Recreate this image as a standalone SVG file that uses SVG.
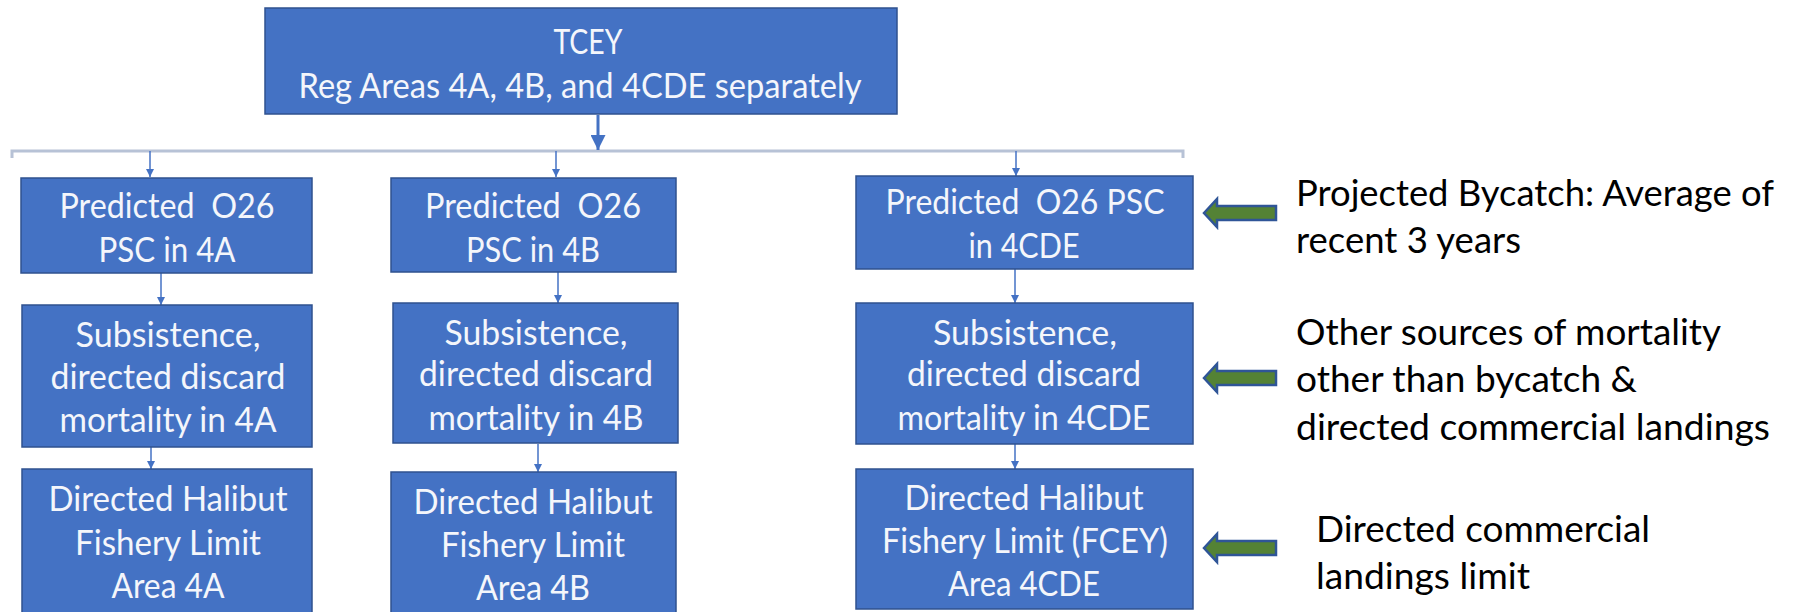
<svg xmlns="http://www.w3.org/2000/svg" width="1794" height="612" viewBox="0 0 1794 612">
<style>
.box{fill:#4472C4;stroke:#2F528F;stroke-width:1.5}
.bt{font-family:Lato,"Open Sans","Liberation Sans",sans-serif;font-size:35px;fill:#F4F6FB;text-anchor:middle}
.rt{font-family:Lato,"Open Sans","Liberation Sans",sans-serif;font-size:37px;fill:#000}
.ln{stroke:#4472C4;stroke-width:1.5;fill:none}
.br{stroke:#B7C2D6;stroke-width:3;fill:none}
.ga{fill:#548235;stroke:#2F5597;stroke-width:2.5;stroke-linejoin:miter}
</style>
<defs>
<marker id="ah" viewBox="0 0 10 10" refX="10" refY="5" markerWidth="8" markerHeight="8" markerUnits="userSpaceOnUse" orient="auto">
<path d="M0,0 L10,5 L0,10 z" fill="#4472C4"/>
</marker>
<marker id="ahb" viewBox="0 0 10 10" refX="10" refY="5" markerWidth="5" markerHeight="5" orient="auto">
<path d="M0,0 L10,5 L0,10 z" fill="#4472C4"/>
</marker>
</defs>

<g id="connectors">
<path class="br" d="M12,158 L12,151 L1183,151 L1183,158"/>
<line x1="598" y1="115" x2="598" y2="150" stroke="#4472C4" stroke-width="3" marker-end="url(#ahb)"/>
<line class="ln" x1="150" y1="151" x2="150" y2="177" marker-end="url(#ah)"/>
<line class="ln" x1="556" y1="151" x2="556" y2="177" marker-end="url(#ah)"/>
<line class="ln" x1="1016" y1="151" x2="1016" y2="176" marker-end="url(#ah)"/>
<line class="ln" x1="161" y1="273" x2="161" y2="305" marker-end="url(#ah)"/>
<line class="ln" x1="558" y1="272" x2="558" y2="303" marker-end="url(#ah)"/>
<line class="ln" x1="1015" y1="269" x2="1015" y2="303" marker-end="url(#ah)"/>
<line class="ln" x1="151" y1="447" x2="151" y2="469" marker-end="url(#ah)"/>
<line class="ln" x1="538" y1="444" x2="538" y2="472" marker-end="url(#ah)"/>
<line class="ln" x1="1015" y1="444" x2="1015" y2="469" marker-end="url(#ah)"/>
<path class="ga" d="M1204,213 L1217,199 L1217,206 L1276,206 L1276,220 L1217,220 L1217,227 z"/>
<path class="ga" d="M1204,378 L1217,364 L1217,371 L1276,371 L1276,385 L1217,385 L1217,392 z"/>
<path class="ga" d="M1204,548 L1217,534 L1217,541 L1276,541 L1276,555 L1217,555 L1217,562 z"/>
</g>

<g id="tcey">
<rect class="box" x="265" y="8" width="632" height="106"/>
<text class="bt" x="588" y="54" textLength="69" lengthAdjust="spacingAndGlyphs">TCEY</text>
<text class="bt" x="580" y="98" textLength="563" lengthAdjust="spacingAndGlyphs">Reg Areas 4A, 4B, and 4CDE separately</text>
</g>

<g id="psc4a">
<rect class="box" x="21" y="178" width="291" height="95"/>
<text class="bt" x="167" y="218" textLength="215" lengthAdjust="spacingAndGlyphs" xml:space="preserve">Predicted  O26</text>
<text class="bt" x="167" y="262" textLength="137" lengthAdjust="spacingAndGlyphs">PSC in 4A</text>
</g>
<g id="sub4a">
<rect class="box" x="22" y="305" width="290" height="142"/>
<text class="bt" x="168" y="347" textLength="185" lengthAdjust="spacingAndGlyphs">Subsistence,</text>
<text class="bt" x="168" y="389" textLength="235" lengthAdjust="spacingAndGlyphs">directed discard</text>
<text class="bt" x="168" y="432" textLength="217" lengthAdjust="spacingAndGlyphs">mortality in 4A</text>
</g>
<g id="fish4a">
<rect class="box" x="22" y="469" width="290" height="150"/>
<text class="bt" x="168" y="511" textLength="239" lengthAdjust="spacingAndGlyphs">Directed Halibut</text>
<text class="bt" x="168" y="555" textLength="186" lengthAdjust="spacingAndGlyphs">Fishery Limit</text>
<text class="bt" x="168" y="598" textLength="113" lengthAdjust="spacingAndGlyphs">Area 4A</text>
</g>

<g id="psc4b">
<rect class="box" x="391" y="178" width="285" height="94"/>
<text class="bt" x="533" y="218" textLength="216" lengthAdjust="spacingAndGlyphs" xml:space="preserve">Predicted  O26</text>
<text class="bt" x="533" y="262" textLength="134" lengthAdjust="spacingAndGlyphs">PSC in 4B</text>
</g>
<g id="sub4b">
<rect class="box" x="393" y="303" width="285" height="140"/>
<text class="bt" x="536" y="345" textLength="183" lengthAdjust="spacingAndGlyphs">Subsistence,</text>
<text class="bt" x="536" y="386" textLength="234" lengthAdjust="spacingAndGlyphs">directed discard</text>
<text class="bt" x="536" y="430" textLength="215" lengthAdjust="spacingAndGlyphs">mortality in 4B</text>
</g>
<g id="fish4b">
<rect class="box" x="391" y="472" width="285" height="150"/>
<text class="bt" x="533" y="514" textLength="239" lengthAdjust="spacingAndGlyphs">Directed Halibut</text>
<text class="bt" x="533" y="557" textLength="184" lengthAdjust="spacingAndGlyphs">Fishery Limit</text>
<text class="bt" x="533" y="600" textLength="114" lengthAdjust="spacingAndGlyphs">Area 4B</text>
</g>

<g id="psc4cde">
<rect class="box" x="856" y="176" width="337" height="93"/>
<text class="bt" x="1025" y="214" textLength="279" lengthAdjust="spacingAndGlyphs" xml:space="preserve">Predicted  O26 PSC</text>
<text class="bt" x="1024" y="258" textLength="111" lengthAdjust="spacingAndGlyphs">in 4CDE</text>
</g>
<g id="sub4cde">
<rect class="box" x="856" y="303" width="337" height="141"/>
<text class="bt" x="1025" y="345" textLength="184" lengthAdjust="spacingAndGlyphs">Subsistence,</text>
<text class="bt" x="1024" y="386" textLength="234" lengthAdjust="spacingAndGlyphs">directed discard</text>
<text class="bt" x="1024" y="430" textLength="253" lengthAdjust="spacingAndGlyphs">mortality in 4CDE</text>
</g>
<g id="fish4cde">
<rect class="box" x="856" y="469" width="337" height="140"/>
<text class="bt" x="1024" y="510" textLength="239" lengthAdjust="spacingAndGlyphs">Directed Halibut</text>
<text class="bt" x="1025" y="553" textLength="286" lengthAdjust="spacingAndGlyphs">Fishery Limit (FCEY)</text>
<text class="bt" x="1024" y="596" textLength="152" lengthAdjust="spacingAndGlyphs">Area 4CDE</text>
</g>

<g id="note1">
<text class="rt" x="1296" y="206" textLength="478" lengthAdjust="spacingAndGlyphs">Projected Bycatch: Average of</text>
<text class="rt" x="1296" y="253" textLength="225" lengthAdjust="spacingAndGlyphs">recent 3 years</text>
</g>
<g id="note2">
<text class="rt" x="1296" y="345" textLength="425" lengthAdjust="spacingAndGlyphs">Other sources of mortality</text>
<text class="rt" x="1296" y="392" textLength="341" lengthAdjust="spacingAndGlyphs">other than bycatch &amp;</text>
<text class="rt" x="1296" y="440" textLength="474" lengthAdjust="spacingAndGlyphs">directed commercial landings</text>
</g>
<g id="note3">
<text class="rt" x="1316" y="542" textLength="334" lengthAdjust="spacingAndGlyphs">Directed commercial</text>
<text class="rt" x="1316" y="589" textLength="214" lengthAdjust="spacingAndGlyphs">landings limit</text>
</g>
</svg>
